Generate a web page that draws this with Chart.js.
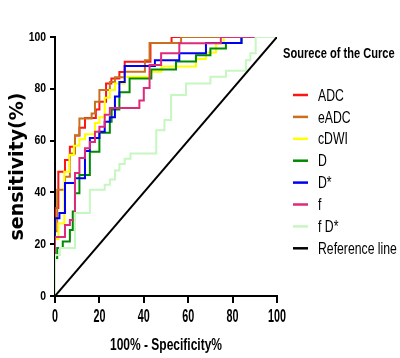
<!DOCTYPE html>
<html>
<head>
<meta charset="utf-8">
<script src="https://cdn.jsdelivr.net/npm/chart.js@4.4.1/dist/chart.umd.min.js"></script>
<style>
  html, body { margin: 0; padding: 0; background: #fff; }
</style>
</head>
<body>
<canvas id="rocChart" width="400" height="358"></canvas>
<script>
// ROC curves (x = 100% - specificity, y = sensitivity)
const curveNames = ['ADC', 'eADC', 'cDWI', 'D', 'D*', 'f', 'f D*', 'Reference line'];
const curveColors = ['#ff1414', '#c8701e', '#ffff00', '#008a00', '#0000f0', '#de2a7c', '#c6f7c0', '#000000'];

const adcX = [0, 0, 1.5, 4.5, 6.7, 9, 11, 13.5, 18.4, 20, 23, 25.4, 29, 31.4, 43, 52.5, 100];
const adcY = [0, 34, 48, 52.5, 57.6, 62, 65, 68.7, 72, 75, 82, 84, 86.5, 90.4, 97.7, 100, 100];

const eadcX = [0, 0, 1, 4.5, 6.7, 9, 11, 16.5, 18, 20, 24.7, 27, 31.4, 40.5, 42.6, 56.8, 100];
const eadcY = [0, 25, 41, 46, 55, 62, 68.5, 70.5, 75, 79.5, 82.6, 84.5, 86.6, 91, 97.7, 100, 100];

const cdwiX = [0, 0, 1.5, 4.2, 6.5, 8.5, 11, 13.5, 18, 20, 22.4, 24.7, 27, 31.4, 42.6, 48, 63.5, 68, 72.5, 76, 100];
const cdwiY = [0, 22, 28, 48, 54.4, 58, 60.5, 62.5, 66.8, 69, 76.5, 79.5, 82, 84.7, 86.6, 88.6, 91.5, 94, 97.5, 100, 100];

const dX = [0, 0, 1, 3.5, 6.7, 8, 9, 11, 15.7, 20, 24.7, 25.5, 29, 33.6, 43.4, 54.5, 63.5, 70, 77, 84, 100];
const dY = [0, 14.7, 18.5, 21, 25.5, 32.6, 39.7, 46.7, 55.7, 63, 67.3, 72, 78.7, 84, 87.5, 90.5, 93, 95.6, 97.7, 100, 100];

const dStarX = [0, 0, 2, 4.5, 9, 13.5, 15.7, 20, 22.4, 24.7, 27, 29, 31.4, 45, 56, 68, 84, 100];
const dStarY = [0, 30, 32, 43.6, 45.5, 56, 61, 63.4, 67.3, 69, 77, 82.6, 88.8, 91, 93.7, 97.7, 100, 100];

const fX = [0, 0, 4.5, 6.7, 9, 11, 13.5, 15.7, 18, 20, 22.4, 24.7, 38, 40, 42.6, 47.8, 56, 74.7, 100];
const fY = [0, 22.8, 27.4, 29.3, 47.5, 53.3, 57, 59.5, 63.4, 65.3, 70, 72.6, 75.5, 80.3, 89.2, 93.7, 97.6, 100, 100];

const fdX = [0, 0, 2.2, 9, 15.7, 22.4, 24.7, 27, 29, 31.4, 34, 45.6, 49.3, 52.3, 59, 70, 77, 86, 88, 90.4, 100];
const fdY = [0, 15.8, 18.5, 32, 41, 43, 45, 48.5, 51, 53, 55, 64, 68, 77.6, 82, 84.7, 87, 91, 93.7, 100, 100];

const refX = [0, 100];
const refY = [0, 100];

const axisTicks = [0, 20, 40, 60, 80, 100];
const legendTitle = 'Sourece of the Curce';
const xTitle = '100% - Specificity%';

const curveXs = [adcX, eadcX, cdwiX, dX, dStarX, fX, fdX, refX];
const curveYs = [adcY, eadcY, cdwiY, dY, dStarY, fY, fdY, refY];

const arial = "'Liberation Sans', Arial, sans-serif";

// no narrow font installed, so squeeze Arial sideways like Arial Narrow
function narrowText(ctx, text, x, y, font, squeeze, align) {
    ctx.save();
    ctx.translate(x, y);
    ctx.scale(squeeze, 1);
    ctx.font = font;
    ctx.textAlign = align;
    ctx.textBaseline = 'middle';
    ctx.fillStyle = '#000';
    ctx.fillText(text, 0, 0);
    ctx.restore();
}

// tick labels, x title and legend drawn by hand in the narrow style
const narrowLabels = {
    id: 'narrowLabels',
    afterDraw(chart) {
        const ctx = chart.ctx;
        const xs = chart.scales.x;
        const ys = chart.scales.y;
        axisTicks.forEach(function (v) {
            narrowText(ctx, String(v), xs.getPixelForValue(v), 317, 'bold 18px ' + arial, 0.6, 'center');
            narrowText(ctx, String(v), 46, ys.getPixelForValue(v), 'bold 13px ' + arial, 0.8, 'right');
        });
        narrowText(ctx, xTitle, 166, 346, 'bold 16px ' + arial, 0.75, 'center');

        narrowText(ctx, legendTitle, 283, 54, 'bold 15px ' + arial, 0.74, 'left');
        curveNames.forEach(function (name, i) {
            const y = 95 + i * 21.9;
            ctx.save();
            ctx.strokeStyle = curveColors[i];
            ctx.lineWidth = 2.5;
            ctx.beginPath();
            ctx.moveTo(293, y);
            ctx.lineTo(308, y);
            ctx.stroke();
            ctx.restore();
            narrowText(ctx, name, 318, y + 1, '17px ' + arial, 0.72, 'left');
        });
    }
};

const datasets = curveNames.map(function (name, i) {
    const xs = curveXs[i];
    return {
        label: name,
        data: xs.map(function (x, j) { return { x: x, y: curveYs[i][j] }; }),
        borderColor: curveColors[i],
        backgroundColor: curveColors[i],
        borderWidth: 2,
        pointRadius: 0,
        fill: false,
        stepped: name === 'Reference line' ? false : 'before',
        // later curves are painted over earlier ones
        order: curveNames.length - i
    };
});

const ctx = document.getElementById('rocChart').getContext('2d');
const rocChart = new Chart(ctx, {
    type: 'line',
    data: { datasets: datasets },
    plugins: [narrowLabels],
    options: {
        responsive: false,
        animation: false,
        layout: { padding: { top: 37, right: 123, left: 0, bottom: 0 } },
        plugins: {
            legend: { display: false },
            tooltip: { enabled: false }
        },
        scales: {
            x: {
                type: 'linear',
                min: 0,
                max: 100,
                afterBuildTicks: function (scale) {
                    scale.ticks = axisTicks.map(function (v) { return { value: v }; });
                },
                afterFit: function (scale) { scale.height = 62; },
                grid: { drawOnChartArea: false, color: '#000', lineWidth: 2, tickLength: 7 },
                border: { color: '#000', width: 2 },
                ticks: { display: false }
            },
            y: {
                type: 'linear',
                min: 0,
                max: 100,
                afterBuildTicks: function (scale) {
                    scale.ticks = axisTicks.map(function (v) { return { value: v }; });
                },
                afterFit: function (scale) { scale.width = 55; },
                grid: { drawOnChartArea: false, color: '#000', lineWidth: 2, tickLength: 5 },
                border: { color: '#000', width: 2 },
                ticks: { display: false },
                title: {
                    display: true,
                    text: 'sensitivity(%)',
                    color: '#000',
                    padding: { top: 7, bottom: 0 },
                    font: { family: "'DejaVu Sans', Verdana, sans-serif", size: 19, weight: 'bold' }
                }
            }
        }
    }
});
</script>
</body>
</html>
